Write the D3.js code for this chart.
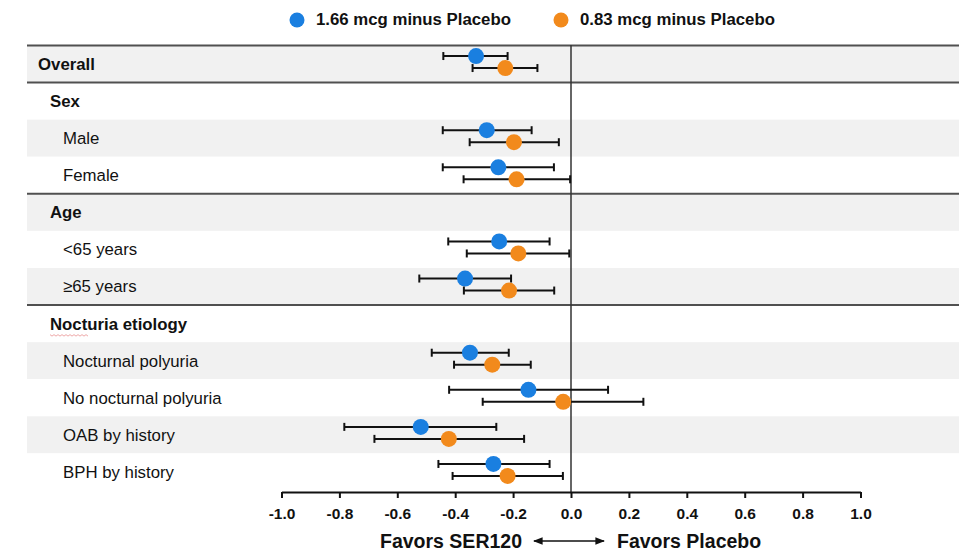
<!DOCTYPE html>
<html>
<head>
<meta charset="utf-8">
<script src="https://cdn.jsdelivr.net/npm/d3@7"></script>
<style>
  html, body { margin: 0; padding: 0; background: #fff; }
  svg { display: block; font-family: "Liberation Sans", Arial, sans-serif; }
</style>
</head>
<body>
<div id="chart"></div>
<script>
// rows of the table, top to bottom
const rowLabels = ["Overall", "Sex", "Male", "Female", "Age", "<65 years", "≥65 years",
  "Nocturia etiology", "Nocturnal polyuria", "No nocturnal polyuria", "OAB by history", "BPH by history"]
const rowLevels = [0, 1, 2, 2, 1, 2, 2, 1, 2, 2, 2, 2]
const groupBreaks = ["Overall", "Female", "≥65 years"] // border drawn under these rows

// subgroups with estimates
const subgroups = ["Overall", "Male", "Female", "<65 years", "≥65 years",
  "Nocturnal polyuria", "No nocturnal polyuria", "OAB by history", "BPH by history"]
const seriesNames = ["1.66 mcg minus Placebo", "0.83 mcg minus Placebo"]

const est166 = [-0.328, -0.291, -0.251, -0.248, -0.366, -0.349, -0.147, -0.519, -0.268]
const lo166  = [-0.441, -0.443, -0.443, -0.424, -0.524, -0.481, -0.421, -0.783, -0.458]
const hi166  = [-0.219, -0.136, -0.059, -0.074, -0.207, -0.215, 0.128, -0.258, -0.074]

const est083 = [-0.227, -0.197, -0.188, -0.182, -0.214, -0.272, -0.027, -0.422, -0.219]
const lo083  = [-0.340, -0.350, -0.371, -0.360, -0.370, -0.404, -0.305, -0.679, -0.409]
const hi083  = [-0.116, -0.042, -0.003, -0.006, -0.058, -0.139, 0.250, -0.162, -0.028]

const xTicks = [-1.0, -0.8, -0.6, -0.4, -0.2, 0.0, 0.2, 0.4, 0.6, 0.8, 1.0]

const colors = ["#1a7fe0", "#f28a1c"]

const width = 972, height = 560

const svg = d3.select("#chart").append("svg")
  .attr("width", width)
  .attr("height", height)

const x = d3.scaleLinear().domain([-1, 1]).range([281.5, 860.5])
const y = d3.scaleBand().domain(rowLabels).range([45.5, 490.5])
const offset = d3.scalePoint().domain(seriesNames).range([-8, 4])
const color = d3.scaleOrdinal().domain(seriesNames).range(colors)

// shaded bands
svg.append("g")
  .selectAll("rect")
  .data(rowLabels)
  .enter()
  .append("rect")
    .attr("x", 27)
    .attr("width", 959 - 27)
    .attr("y", d => y(d))
    .attr("height", y.bandwidth())
    .attr("fill", (d, i) => i % 2 === 0 ? "#f1f1f1" : "#fff")

// row labels
const indent = [38, 50, 63]
svg.append("g")
  .selectAll("text")
  .data(rowLabels)
  .enter()
  .append("text")
    .attr("x", (d, i) => indent[rowLevels[i]])
    .attr("y", d => y(d) + y.bandwidth() / 2 + 1.5)
    .attr("dominant-baseline", "middle")
    .attr("font-size", 16.8)
    .attr("font-weight", (d, i) => rowLevels[i] < 2 ? "bold" : "normal")
    .attr("fill", "#111")
    .text(d => d)

// spell check squiggle under "Nocturia"
const sq = y("Nocturia etiology") + y.bandwidth() / 2 + 11
let squiggle = "M50," + sq
for (let i = 0; i < 19; i++) squiggle += " l2," + (i % 2 ? -1.5 : 1.5)
svg.append("path")
  .attr("d", squiggle)
  .attr("fill", "none")
  .attr("stroke", "#e89090")
  .attr("stroke-width", 0.8)

// group borders
const borderYs = [y.range()[0]].concat(groupBreaks.map(d => y(d) + y.bandwidth()))
svg.append("g")
  .selectAll("line")
  .data(borderYs)
  .enter()
  .append("line")
    .attr("x1", 27).attr("x2", 959)
    .attr("y1", d => d).attr("y2", d => d)
    .attr("stroke", "#505050")
    .attr("stroke-width", 2)

// zero line
svg.append("line")
  .attr("x1", x(0)).attr("x2", x(0))
  .attr("y1", 45).attr("y2", 492)
  .attr("stroke", "#333")
  .attr("stroke-width", 1.5)

// axis
const fmt = d => d3.format(".1f")(d).replace("−", "-")
const axis = svg.append("g")
  .attr("transform", "translate(0,492)")
  .call(d3.axisBottom(x).tickValues(xTicks).tickFormat(fmt).tickSize(6).tickSizeOuter(0))
axis.select(".domain").attr("stroke", "#111").attr("stroke-width", 2)
axis.selectAll(".tick line").attr("stroke", "#111").attr("stroke-width", 2)
axis.selectAll(".tick text")
  .attr("font-family", "Liberation Sans, Arial, sans-serif")
  .attr("font-size", 15.5)
  .attr("font-weight", "bold")
  .attr("fill", "#111")
  .attr("dy", "1.15em")

// estimates
const series = [
  {name: seriesNames[0], est: est166, lo: lo166, hi: hi166},
  {name: seriesNames[1], est: est083, lo: lo083, hi: hi083}
]

series.forEach(s => {
  const pts = subgroups.map((g, i) => ({g, est: s.est[i], lo: s.lo[i], hi: s.hi[i]}))
  const cy = d => y(d.g) + y.bandwidth() / 2 + offset(s.name)
  const grp = svg.append("g")

  grp.selectAll(".ci")
    .data(pts)
    .enter()
    .append("line")
      .attr("x1", d => x(d.lo)).attr("x2", d => x(d.hi))
      .attr("y1", cy).attr("y2", cy)
      .attr("stroke", "#111")
      .attr("stroke-width", 2)

  ;["lo", "hi"].forEach(k => {
    grp.selectAll(".cap-" + k)
      .data(pts)
      .enter()
      .append("line")
        .attr("x1", d => x(d[k])).attr("x2", d => x(d[k]))
        .attr("y1", d => cy(d) - 4).attr("y2", d => cy(d) + 4)
        .attr("stroke", "#111")
        .attr("stroke-width", 2)
  })

  grp.selectAll("circle")
    .data(pts)
    .enter()
    .append("circle")
      .attr("cx", d => x(d.est))
      .attr("cy", cy)
      .attr("r", 8)
      .attr("fill", color(s.name))
})

// legend
const legendX = [297, 561]
const legend = svg.append("g")
  .selectAll("g")
  .data(seriesNames)
  .enter()
  .append("g")
    .attr("transform", (d, i) => `translate(${legendX[i]},20)`)
legend.append("circle").attr("r", 7.5).attr("fill", d => color(d))
legend.append("text")
  .attr("x", 19)
  .attr("y", 1)
  .attr("dominant-baseline", "middle")
  .attr("font-size", 16.8)
  .attr("font-weight", "bold")
  .attr("fill", "#111")
  .text(d => d)

// direction caption
const cap = svg.append("g").attr("font-size", 19.5).attr("font-weight", "bold").attr("fill", "#111")
cap.append("text").attr("x", 522).attr("y", 548).attr("text-anchor", "end").text("Favors SER120")
cap.append("text").attr("x", 617).attr("y", 548).text("Favors Placebo")
const defs = svg.append("defs")
defs.append("marker")
  .attr("id", "arrowhead")
  .attr("viewBox", "0 0 10 10")
  .attr("refX", 9).attr("refY", 5)
  .attr("markerWidth", 6).attr("markerHeight", 6)
  .attr("orient", "auto-start-reverse")
  .append("path").attr("d", "M0,1 L10,5 L0,9 z").attr("fill", "#111")
svg.append("line")
  .attr("x1", 534).attr("x2", 604)
  .attr("y1", 541).attr("y2", 541)
  .attr("stroke", "#111")
  .attr("stroke-width", 1.6)
  .attr("marker-start", "url(#arrowhead)")
  .attr("marker-end", "url(#arrowhead)")
</script>
</body>
</html>
